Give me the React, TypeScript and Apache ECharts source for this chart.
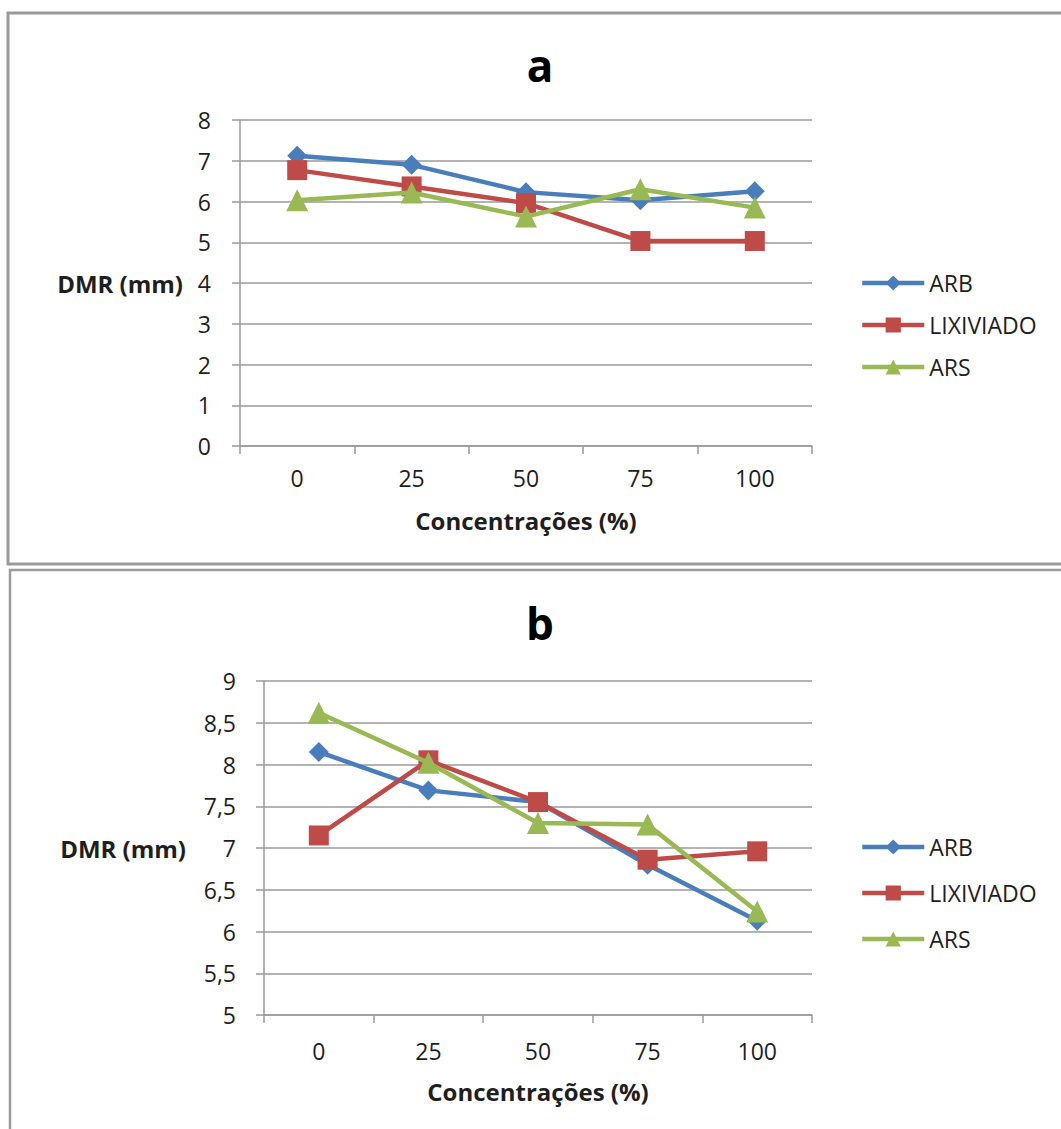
import React, { useEffect, useRef } from "react";
import * as echarts from "echarts";

const categories = ["0", "25", "50", "75", "100"];
const seriesNames = ["ARB", "LIXIVIADO", "ARS"];

// Panel a
const arbA = [7.12, 6.9, 6.23, 6.03, 6.25];
const lixA = [6.77, 6.37, 5.96, 5.03, 5.03];
const arsA = [6.03, 6.22, 5.63, 6.3, 5.85];

// Panel b
const arbB = [8.15, 7.69, 7.55, 6.8, 6.13];
const lixB = [7.15, 8.05, 7.55, 6.86, 6.96];
const arsB = [8.62, 8.02, 7.3, 7.28, 6.24];

const yTicksA = { min: 0, max: 8, interval: 1 };
const yTicksB = { min: 5, max: 9, interval: 0.5 };

const colors = ["#4A7EBB", "#BE4B48", "#98B954"];
const symbols = ["diamond", "rect", "triangle"];
const symbolSizes = [20, 20, 22];

const FONT = "Open Sans";
const GRID_COLOR = "#9a9a9a";
const TEXT = "#1e1e1e";

export default function App() {
  const ref = useRef<HTMLDivElement>(null);

  useEffect(() => {
    if (!ref.current) return;
    const chart = echarts.init(ref.current, undefined, { renderer: "svg" });

    const makeX = (gridIndex: number, labelMargin: number, nameGap: number) => ({
      type: "category",
      gridIndex,
      data: categories,
      boundaryGap: true,
      name: "Concentrações (%)",
      nameLocation: "middle",
      nameGap,
      nameTextStyle: { fontFamily: FONT, fontSize: 24, fontWeight: "bold", color: TEXT },
      axisLine: { show: true, lineStyle: { color: GRID_COLOR, width: 1.5 } },
      axisTick: { show: true, alignWithLabel: false, interval: 0, length: 8, lineStyle: { color: GRID_COLOR, width: 1.5 } },
      axisLabel: { interval: 0, margin: labelMargin, fontFamily: FONT, fontSize: 23, color: TEXT },
      splitLine: { show: false },
    });

    const makeY = (gridIndex: number, t: { min: number; max: number; interval: number }, nameGap: number, labelMargin: number) => ({
      type: "value",
      gridIndex,
      min: t.min,
      max: t.max,
      interval: t.interval,
      name: "DMR (mm)",
      nameLocation: "middle",
      nameRotate: 0,
      nameGap,
      nameTextStyle: { fontFamily: FONT, fontSize: 24, fontWeight: "bold", color: TEXT },
      axisLine: { show: true, lineStyle: { color: GRID_COLOR, width: 1.5 } },
      axisTick: { show: true, length: 8, lineStyle: { color: GRID_COLOR, width: 1.5 } },
      axisLabel: {
        margin: labelMargin,
        fontFamily: FONT,
        fontSize: 23,
        color: TEXT,
        formatter: (v: number) => String(v).replace(".", ","),
      },
      splitLine: { show: true, lineStyle: { color: GRID_COLOR, width: 1.5 } },
    });

    const dataA = [arbA, lixA, arsA];
    const dataB = [arbB, lixB, arsB];

    const makeSeries = (data: number[][], idx: number) =>
      data.map((d, i) => ({
        type: "line",
        name: seriesNames[i],
        xAxisIndex: idx,
        yAxisIndex: idx,
        data: d,
        symbol: symbols[i],
        symbolSize: symbolSizes[i],
        showAllSymbol: true,
        lineStyle: { color: colors[i], width: 4.5 },
        itemStyle: { color: colors[i] },
        z: 2 + i,
      }));

    const makeLegend = (top: number, gap: number) => ({
      orient: "vertical",
      left: 855,
      top,
      itemWidth: 62,
      itemHeight: 19,
      itemGap: gap,
      data: seriesNames,
      lineStyle: { width: 4.5 },
      textStyle: { fontFamily: FONT, fontSize: 23, color: TEXT, lineHeight: 24 },
    });

    chart.setOption({
      animation: false,
      backgroundColor: "#ffffff",
      title: [
        { text: "a", left: 535, top: 38, textAlign: "center", textStyle: { fontFamily: FONT, fontSize: 44, fontWeight: "bold", color: "#000" } },
        { text: "b", left: 535, top: 596, textAlign: "center", textStyle: { fontFamily: FONT, fontSize: 44, fontWeight: "bold", color: "#000" } },
      ],
      grid: [
        { left: 240, right: 249, top: 120, bottom: 1129 - 446, containLabel: false },
        { left: 264, right: 249, top: 681, bottom: 1129 - 1015, containLabel: false },
      ],
      xAxis: [makeX(0, 20, 62), makeX(1, 24, 64)],
      yAxis: [makeY(0, yTicksA, 57, 29), makeY(1, yTicksB, 78, 28)],
      legend: [makeLegend(266, 18), makeLegend(830, 22)],
      series: [...makeSeries(dataA, 0), ...makeSeries(dataB, 1)],
      graphic: [
        {
          type: "rect",
          shape: { x: 8, y: 13, width: 1080, height: 551 },
          style: { fill: "none", stroke: "#9a9a9a", lineWidth: 3 },
          silent: true,
        },
        {
          type: "rect",
          shape: { x: 10, y: 570, width: 1080, height: 600 },
          style: { fill: "none", stroke: "#9a9a9a", lineWidth: 2.5 },
          silent: true,
        },
      ],
    });

    return () => chart.dispose();
  }, []);

  return (
    <div
      ref={ref}
      style={{ position: "absolute", left: 0, top: 0, width: 1061, height: 1129 }}
    />
  );
}
